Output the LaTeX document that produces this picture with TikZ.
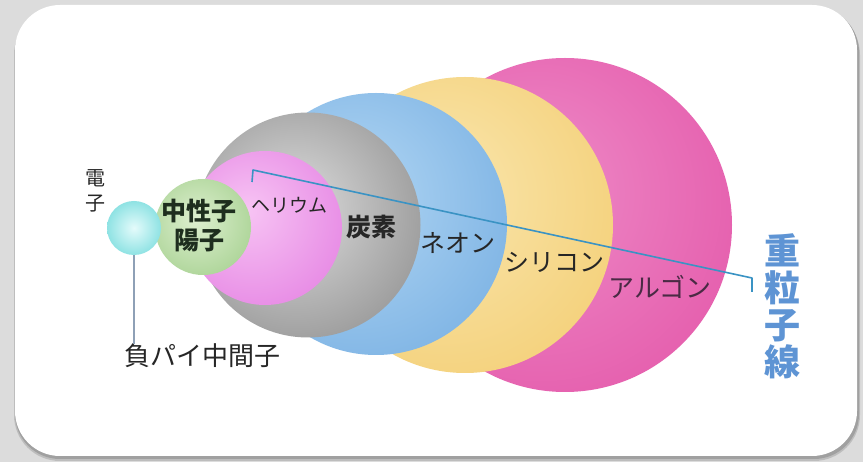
\documentclass[tikz,border=0pt]{standalone}
\usepackage{fontspec}
\newfontfamily\jp{Noto Sans CJK JP}
\definecolor{bgGray}{HTML}{DCDCDC}
\definecolor{shadowGray}{HTML}{A0A0A0}
\definecolor{argonIn}{HTML}{EE8CC8}
\definecolor{argonOut}{HTML}{DF3F9B}
\definecolor{siIn}{HTML}{FAE7B0}
\definecolor{siOut}{HTML}{F0C257}
\definecolor{neIn}{HTML}{B4D8F4}
\definecolor{neOut}{HTML}{5B9CDA}
\definecolor{cIn}{HTML}{DEDEDE}
\definecolor{cOut}{HTML}{666666}
\definecolor{heIn}{HTML}{F7C4F4}
\definecolor{heOut}{HTML}{DC62DA}
\definecolor{npIn}{HTML}{DDEFCF}
\definecolor{npOut}{HTML}{86BF6C}
\definecolor{eIn}{HTML}{E4FBFB}
\definecolor{eOut}{HTML}{2CC6C8}
\definecolor{beamBlue}{HTML}{3A93C4}
\definecolor{labelInk}{HTML}{262626}
\definecolor{npInk}{HTML}{1E2E1E}
\definecolor{argonInk}{HTML}{4A2A44}
\definecolor{ionBlue}{HTML}{5E94D4}
\definecolor{stemGray}{HTML}{8EA0B6}
\pgfdeclareradialshading{shArgon}{\pgfpoint{-6bp}{6bp}}{color(0bp)=(argonIn); color(54bp)=(argonOut); color(70bp)=(argonOut)}
\pgfdeclareradialshading{shSi}{\pgfpoint{-6bp}{6bp}}{color(0bp)=(siIn); color(54bp)=(siOut); color(70bp)=(siOut)}
\pgfdeclareradialshading{shNe}{\pgfpoint{-6bp}{6bp}}{color(0bp)=(neIn); color(54bp)=(neOut); color(70bp)=(neOut)}
\pgfdeclareradialshading{shC}{\pgfpoint{-4bp}{4bp}}{color(0bp)=(cIn); color(54bp)=(cOut); color(70bp)=(cOut)}
\pgfdeclareradialshading{shHe}{\pgfpoint{-6bp}{6bp}}{color(0bp)=(heIn); color(54bp)=(heOut); color(70bp)=(heOut)}
\pgfdeclareradialshading{shNp}{\pgfpoint{-4bp}{4bp}}{color(0bp)=(npIn); color(54bp)=(npOut); color(70bp)=(npOut)}
\pgfdeclareradialshading{shE}{\pgfpoint{0bp}{0bp}}{color(0bp)=(eIn); color(54bp)=(eOut); color(70bp)=(eOut)}
\begin{document}
\begin{tikzpicture}[x=1pt,y=-1pt,
  sphere/.style={circle,inner sep=0pt,minimum size=#1},
  lbl/.style={inner sep=0pt,text=labelInk,align=center},
  beam/.style={draw=beamBlue,line width=1.6pt,line join=round},
  stem/.style={draw=stemGray,line width=1.2pt}]
\useasboundingbox (0,0) rectangle (863,462);
\fill[bgGray] (0,0) rectangle (863,462);
\fill[shadowGray,opacity=0.5,rounded corners=46pt] (14,9) rectangle (860,461);
\fill[shadowGray,rounded corners=45pt] (15,7) rectangle (859,459);
\fill[white,rounded corners=45pt] (15,5) rectangle (857,456);
% spheres, back to front
\node[sphere=334pt,shading=shArgon] (ar) at (565,225) {};
\node[sphere=296pt,shading=shSi] (si) at (465,225) {};
\node[sphere=262pt,shading=shNe] (ne) at (376,224) {};
\node[sphere=225pt,shading=shC] (c) at (308,225) {};
\node[sphere=154pt,shading=shHe] (he) at (265,228) {};
\node[sphere=96pt,shading=shNp] (np) at (203,227) {};
\node[sphere=54pt,shading=shE] (e) at (134,228) {};
% beam line
\coordinate (b0) at (252,182);
\coordinate (b1) at (253,170);
\coordinate (b2) at (752,278);
\coordinate (b3) at (752,292);
\draw[beam] (b0) -- (b1) -- (b2) -- (b3);
% labels
\node[lbl,font=\fontsize{20}{25}\jp] (lblE) at (95,191) {電\\子};
\node[lbl,font=\fontsize{25}{29}\jp\bfseries,text=npInk] (lblNp) at (199,226) {中性子\\陽子};
\node[lbl,font=\fontsize{19}{22}\jp] (lblHe) at (289,205) {ヘリウム};
\node[lbl,font=\fontsize{25}{28}\jp\bfseries] (lblC) at (371,227) {炭素};
\node[lbl,font=\fontsize{25}{28}\jp] (lblNe) at (458,243) {ネオン};
\node[lbl,font=\fontsize{25}{28}\jp] (lblSi) at (554,262) {シリコン};
\node[lbl,font=\fontsize{26}{28}\jp,text=argonInk] (lblAr) at (660,287) {アルゴン};
\node[lbl,font=\fontsize{26}{28}\jp] (lblPi) at (202,356) {負パイ中間子};
\node[lbl,font=\fontsize{36}{37}\jp\bfseries,text=ionBlue] (lblIon) at (782,306) {重\\粒\\子\\線};
\draw[stem] (e.south) -- (lblPi.north -| e.south);
\end{tikzpicture}
\end{document}
